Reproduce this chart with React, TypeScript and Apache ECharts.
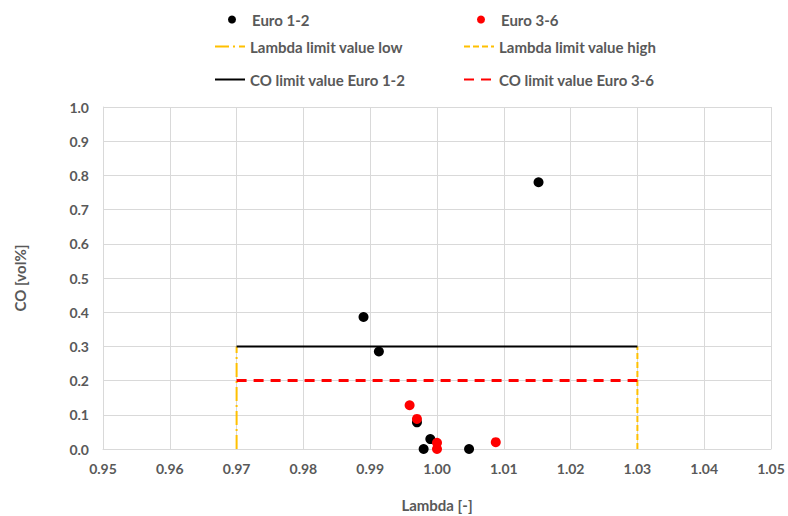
import React, { useEffect, useRef } from "react";
import * as echarts from "echarts";

const euro12: [number, number][] = [
  [1.0152, 0.78],
  [0.989, 0.386],
  [0.9913, 0.285],
  [0.997, 0.078],
  [0.999, 0.029],
  [0.998, 0.0],
  [1.0048, 0.0],
];
const euro36: [number, number][] = [
  [0.9959, 0.128],
  [0.997, 0.088],
  [1.0, 0.018],
  [1.0, 0.0],
  [1.0088, 0.02],
];
const lambdaLow: [number, number][] = [
  [0.97, 0],
  [0.97, 0.3],
];
const lambdaHigh: [number, number][] = [
  [1.03, 0],
  [1.03, 0.3],
];
const coEuro12: [number, number][] = [
  [0.97, 0.3],
  [1.03, 0.3],
];
const coEuro36: [number, number][] = [
  [0.97, 0.2],
  [1.03, 0.2],
];

const FONT = "Lato, 'Open Sans', sans-serif";
const GREY = "#595959";

export default function App() {
  const ref = useRef<HTMLDivElement>(null);
  useEffect(() => {
    if (!ref.current) return;
    const chart = echarts.init(ref.current, null, { renderer: "svg" });
    const legendText = { fontSize: 15, color: GREY, fontWeight: "bold" as const, fontFamily: FONT };
    const mkLegend = (name: string, left: number, top: number, isLine: boolean) => ({
      data: [name],
      left,
      top,
      itemWidth: 30,
      itemHeight: isLine ? 10 : 8,
      itemGap: 5,
      textStyle: legendText,
      selectedMode: false,
      ...(isLine ? { itemStyle: { opacity: 0 } } : {}),
    });
    chart.setOption({
      animation: false,
      backgroundColor: "#ffffff",
      textStyle: { fontFamily: FONT },
      legend: [
        mkLegend("Euro 1-2", 223, 7, false),
        mkLegend("Euro 3-6", 472, 7, false),
        mkLegend("Lambda limit value low", 209, 34, true),
        mkLegend("Lambda limit value high", 458, 34, true),
        mkLegend("CO limit value Euro 1-2", 209, 67, true),
        mkLegend("CO limit value Euro 3-6", 458, 67, true),
      ],
      grid: { left: 103, right: 17, top: 107, bottom: 67, outerBoundsMode: "none" },
      xAxis: {
        type: "value",
        min: 0.95,
        max: 1.05,
        interval: 0.01,
        name: "Lambda [-]",
        nameLocation: "middle",
        nameGap: 48,
        nameTextStyle: { fontSize: 15, color: GREY, fontWeight: "bold", fontFamily: FONT },
        axisLine: { show: true, lineStyle: { color: "#d9d9d9", width: 1 } },
        axisTick: { show: false },
        axisLabel: {
          fontSize: 14,
          color: GREY,
          fontWeight: "bold",
          margin: 12,
          formatter: (v: number) => v.toFixed(2),
        },
        splitLine: { show: true, lineStyle: { color: "#d9d9d9", width: 1 } },
      },
      yAxis: {
        type: "value",
        min: 0,
        max: 1,
        interval: 0.1,
        name: "CO [vol%]",
        nameLocation: "middle",
        nameGap: 76,
        nameRotate: 90,
        nameTextStyle: { fontSize: 15, color: GREY, fontWeight: "bold", fontFamily: FONT },
        axisLine: { show: true, lineStyle: { color: "#d9d9d9", width: 1 } },
        axisTick: { show: false },
        axisLabel: {
          fontSize: 14,
          color: GREY,
          fontWeight: "bold",
          margin: 14,
          formatter: (v: number) => v.toFixed(1),
        },
        splitLine: { show: true, lineStyle: { color: "#d9d9d9", width: 1 } },
      },
      series: [
        {
          name: "Lambda limit value low",
          type: "line",
          data: lambdaLow,
          symbol: "none",
          color: "#FFC000",
          lineStyle: { color: "#FFC000", width: 2, type: [14, 4, 2, 4] },
          z: 2,
        },
        {
          name: "Lambda limit value high",
          type: "line",
          data: lambdaHigh,
          symbol: "none",
          color: "#FFC000",
          lineStyle: { color: "#FFC000", width: 2, type: [6, 3] },
          z: 2,
        },
        {
          name: "CO limit value Euro 1-2",
          type: "line",
          data: coEuro12,
          symbol: "none",
          color: "#000000",
          lineStyle: { color: "#000000", width: 2 },
          z: 2,
        },
        {
          name: "CO limit value Euro 3-6",
          type: "line",
          data: coEuro36,
          symbol: "none",
          color: "#FF0000",
          lineStyle: { color: "#FF0000", width: 3, type: [10, 7] },
          z: 2,
        },
        {
          name: "Euro 1-2",
          type: "scatter",
          data: euro12,
          symbol: "circle",
          symbolSize: 10,
          itemStyle: { color: "#000000", opacity: 1 },
          z: 3,
        },
        {
          name: "Euro 3-6",
          type: "scatter",
          data: euro36,
          symbol: "circle",
          symbolSize: 10,
          itemStyle: { color: "#FF0000", opacity: 1 },
          z: 4,
        },
      ],
    });
    return () => chart.dispose();
  }, []);
  return <div ref={ref} style={{ width: 788, height: 516, position: "absolute", left: 0, top: 0 }} />;
}
